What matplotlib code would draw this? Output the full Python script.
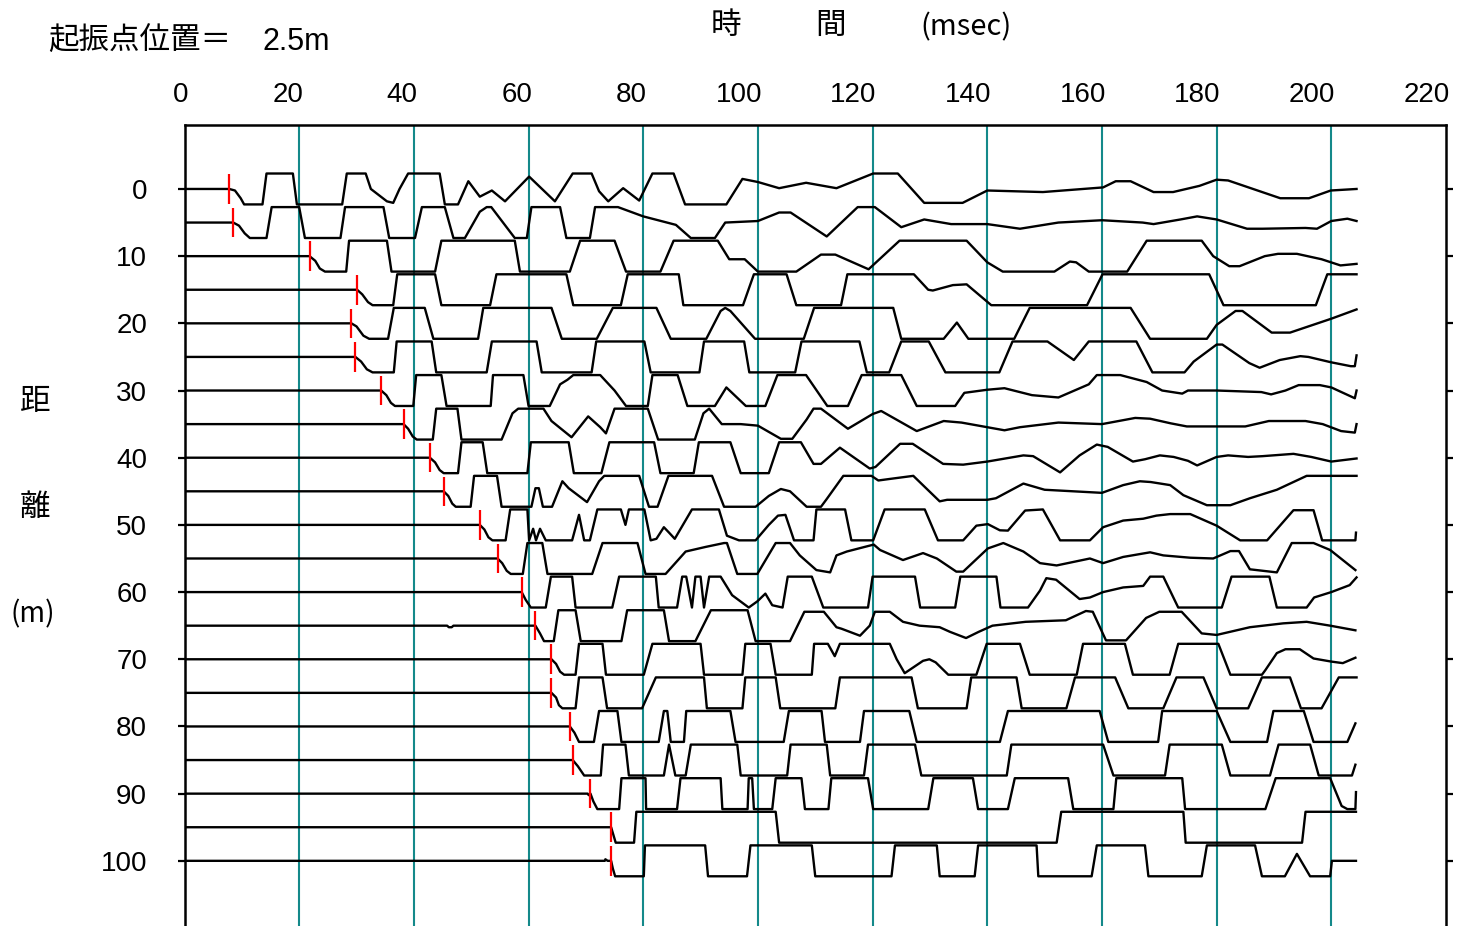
import matplotlib
matplotlib.use("Agg")
import matplotlib.pyplot as plt
from matplotlib.transforms import ScaledTranslation

# geophone offsets (m) and first-break picks (ms)
distances = list(range(0, 105, 5))
picks = [7.8, 8.5, 21.8, 30.1, 29.1, 29.8, 34.3, 38.2, 42.8, 45.2, 51.5,
         54.6, 58.8, 61.2, 64.0, 64.0, 67.2, 67.7, 70.8, 74.4, 74.4]

# clipped traces: (time ms, amplitude, +1 = clip up)
w00 = [(0,0),(7.8,0),(8.8,-0.1),(9.8,-0.6),(10.4,-1),(13.6,-1),(14.3,1),(18.9,1),(19.6,-1),(27.5,-1),(28.3,1),(31.6,1),
       (32.5,0),(35.3,-0.8),(36.4,-0.9),(37.5,0),(39,1),(44.5,1),(45.4,-1),(47.7,-1),(49.5,0.5),(51.5,-0.5),(53.6,-0.1),
       (55.9,-0.8),(60.1,0.8),(64.6,-0.8),(67.7,1),(71,1),(72.3,-0.15),(73.9,-0.8),(76.5,0.05),(79.3,-0.75),(81.6,1),
       (85.3,1),(87.3,-1),(94.5,-1),(97.3,0.65),(100,0.45),(103.7,0.05),(108.4,0.4),(113.7,0.05),(120.1,1),(124.4,1),
       (129,-0.9),(135.7,-0.9),(140,-0.1),(149.7,-0.2),(160.2,0.1),(162.4,0.5),(165,0.5),(169,-0.2),(172.4,-0.2),
       (177,0.2),(180,0.6),(182,0.55),(191.1,-0.6),(196.1,-0.6),(199.9,-0.1),(204.4,0)]
w05 = [(0,0),(8.5,0),(9.5,-0.2),(10.5,-0.7),(11.4,-1),(14.3,-1),(15.2,1),(20,1),(21,-1),(27.2,-1),(28,1),(34.7,1),
       (35.7,-1),(40.2,-1),(41.4,1),(45.4,1),(46.9,-1),(48.9,-1),(51.5,0.7),(52.7,1),(53.5,1),(57.6,-1),(59.7,-1),
       (60.5,1),(65.5,1),(66.6,-1),(70.7,-1),(71.6,1),(75.6,1),(80,0.4),(85.7,-0.15),(88.3,-1),(92.5,-1),(94.3,0),
       (100,0.1),(103.7,0.65),(105.7,0.65),(112,-0.9),(117.4,1),(120.4,1),(125,-0.3),(129,0.2),(133.7,-0.1),
       (140,-0.1),(145.7,-0.4),(152.4,0),(160,0.15),(167.1,0),(169,-0.1),(173.7,0.2),(176.6,0.4),(180,0.2),
       (185.3,-0.4),(188,-0.4),(195.5,-0.35),(197.5,-0.4),(200,0.1),(202.8,0.25),(204.4,0.1)]
w10 = [(0,0),(21.8,0),(22.8,-0.3),(23.6,-0.8),(24.5,-1),(28.2,-1),(28.7,1),(35.3,1),(36.1,-1),(43.7,-1),(44.8,1),
       (57.6,1),(58.5,-1),(67.2,-1),(69,1),(75,1),(77,-1),(83,-1),(85.3,1),(93,1),(95,-0.2),(97.7,-0.2),(100,-1),
       (106.7,-1),(111,0.1),(113.5,0.1),(119.3,-0.85),(124.7,1),(136.4,1),(140,-0.4),(142.7,-1),(151.7,-1),
       (154.4,-0.35),(155.5,-0.4),(157.7,-1),(164.4,-1),(167.8,1),(177.4,1),(179.4,0),(182.2,-0.65),(184,-0.65),
       (188.4,0),(190.7,0.15),(194,0.15),(198.3,-0.2),(201.6,-0.6),(204.4,-0.5)]
w15 = [(0,0),(30.1,0),(31,-0.3),(32,-0.8),(32.8,-1),(36.4,-1),(37.1,1),(43.7,1),(44.8,-1),(53.3,-1),(54.4,1),
       (66.6,1),(67.8,-1),(76.1,-1),(77.3,1),(86.2,1),(87,-1),(97.4,-1),(99.3,1),(105,1),(106.7,-1),(114.5,-1),
       (115.6,1),(127.2,1),(129.7,0),(130.5,-0.05),(134,0.3),(136.4,0.35),(140.7,-1),(157.4,-1),(160.1,1),
       (178.7,1),(181.2,-1),(197.3,-1),(199.3,1),(204.4,1)]
w20 = [(0,0),(29.1,0),(30,-0.2),(31.2,-0.8),(32.2,-1),(35.5,-1),(36.5,1),(41.9,1),(43.4,-1),(51.2,-1),(52.1,1),
       (64,1),(65.8,-1),(71.9,-1),(74.7,1),(82.3,1),(84.8,-1),(91,-1),(93.5,0.8),(94.3,1),(95.2,0.8),(99.5,-1),
       (108,-1),(109.8,1),(123.6,1),(125,-1),(132.4,-1),(134.7,0.05),(136.7,-1),(144.7,-1),(147.4,1),(165,1),
       (168.4,-1),(178.3,-1),(180,-0.1),(183.3,0.8),(184.5,0.8),(189.6,-0.6),(192.8,-0.6),(200,0.3),(204.4,0.9)]
w25 = [(0,0),(29.8,0),(30.8,-0.3),(31.8,-0.8),(32.8,-1),(36.5,-1),(37,1),(43.1,1),(43.9,-1),(52.7,-1),(53.6,1),
       (61.4,1),(62.3,-1),(71,-1),(71.8,1),(80.2,1),(81.3,-1),(89.8,-1),(90.6,1),(97.6,1),(98.5,-1),(106.5,-1),
       (107.6,1),(117.7,1),(119,-1),(122.9,-1),(125,1),(129.8,1),(132.7,-1),(142.1,-1),(144.4,1),(150.5,1),
       (155.1,-0.2),(157.7,1),(166,1),(168.8,-1),(174.4,-1),(176,-0.3),(180,0.8),(181,0.8),(185.7,-0.4),
       (187.5,-0.7),(191,-0.2),(194.6,0.05),(196,0),(200,-0.35),(203.4,-0.6),(204.1,-0.6),(204.4,0.1)]
w30 = [(0,0),(34.3,0),(35.2,-0.3),(36,-0.8),(36.7,-1),(39.9,-1),(40.4,1),(44.8,1),(45.7,-1),(53.4,-1),(53.8,1),
       (59.1,1),(60,-1),(63.7,-1),(65.5,0.4),(66.8,0.7),(67.8,1),(72.5,1),(75,0),(77,-1),(80.8,-1),(81.6,1),(86,1),
       (87.7,-1),(92.5,-1),(94.5,0.2),(97.9,-1),(101.3,-1),(103.4,1),(108.4,1),(112.1,-1),(115.7,-1),(118.1,1),
       (125,1),(127.7,-1),(134.4,-1),(136,-0.15),(140,0.05),(143,0.15),(147.8,-0.3),(152.4,-0.45),(157.7,0.4),
       (159.1,1),(163.2,1),(167.8,0.55),(170.5,0),(174,-0.2),(175,0),(180,0),(187.8,-0.1),(189.5,-0.25),(192,0),
       (194.3,0.35),(198,0.35),(200,0.2),(204.1,-0.5),(204.4,0)]
w35 = [(0,0),(38.2,0),(39,-0.3),(39.8,-0.8),(40.5,-1),(43.3,-1),(43.9,1),(47.6,1),(48.3,-1),(55.3,-1),(57.2,0.7),
       (58.2,1),(62.6,1),(64,0.2),(66,-0.4),(67.5,-0.85),(70.4,0.5),(72.5,-0.2),(73.5,-0.6),(75,1),(80.8,1),
       (82.6,-1),(89,-1),(90.5,0.7),(91.5,1),(93.7,0),(97,0),(100,-0.1),(104,-0.95),(106,-0.95),(108.5,0.3),
       (109.7,1),(111,1),(115.7,-0.3),(120,0.65),(121.5,0.85),(127.7,-0.45),(132.4,0.2),(135.5,0.1),(140,-0.2),
       (143,-0.4),(145.7,-0.2),(152.4,0.1),(160,0),(165.8,0.4),(168.4,0.35),(172,0.05),(174.8,-0.15),(185,-0.15),
       (189.1,0.2),(195.5,0.2),(198.5,0),(201.7,-0.45),(204.1,-0.55),(204.4,0)]
w40 = [(0,0),(42.8,0),(43.7,-0.3),(44.5,-0.8),(45.2,-1),(47.7,-1),(48.3,1),(52,1),(52.8,-1),(59.8,-1),(60.4,1),
       (67,1),(67.9,-1),(72.7,-1),(74.1,1),(81.9,1),(83,-1),(88.8,-1),(89.7,1),(95.2,1),(97,-1),(101.9,-1),
       (103.7,1),(107.5,1),(109.7,-0.4),(111,-0.4),(114.3,0.65),(119.5,-0.7),(120.5,-0.6),(124.8,0.9),(127,0.9),
       (132.3,-0.4),(135.8,-0.45),(140,-0.25),(146.3,0.15),(148,0.1),(152.7,-0.95),(156.1,0.15),(159.1,0.85),
       (161,0.7),(165.4,-0.25),(167.5,-0.1),(170.1,0.15),(172.5,0.05),(175,-0.2),(176.6,-0.5),(180,0.05),
       (182,0.15),(185.5,0.05),(188,0.1),(193.4,0.25),(196.5,0.05),(200,-0.25),(204.4,-0.05)]
w45 = [(0,0),(45.2,0),(46,-0.3),(46.7,-0.8),(47.3,-1),(49.9,-1),(50.5,1),(54.5,1),(55.3,-1),(60.5,-1),(61.2,0.2),
       (61.8,0.2),(62.5,-1),(64.1,-1),(65.9,0.65),(67,0.2),(70.2,-0.7),(72.3,0.65),(73.2,1),(79.3,1),(81,-1),
       (82.5,-1),(84.4,1),(92,1),(94.1,-1),(99.6,-1),(101.9,-0.3),(104,0.15),(105.6,0),(108.5,-1),(111,-1),
       (112,-0.5),(114.9,1),(119.8,1),(121,0.7),(123,0.8),(127.1,1),(131.7,-0.65),(133,-0.55),(140,-0.55),
       (141.5,-0.45),(146.3,0.5),(150,0.1),(160,-0.1),(163.7,0.4),(166.6,0.65),(168.5,0.6),(171.9,0.4),
       (174.2,-0.25),(178.3,-0.9),(182.4,-0.9),(185.8,-0.45),(190.5,0.1),(195.7,1),(204.4,1)]
w50 = [(0,0),(51.5,0),(52.3,-0.3),(53,-0.8),(53.7,-1),(56,-1),(56.8,1),(59.8,1),(60.1,-1),(60.8,-0.25),(61.3,-1),
       (62,-0.25),(63,-1),(67.6,-1),(68.8,0.65),(69.7,-1),(70.7,-1),(72,1),(76.1,1),(76.9,0),(77.5,1),(80.2,1),
       (81.3,-1),(82.3,-0.9),(83.6,-0.15),(84.5,-0.5),(85.5,-0.9),(88.5,1),(93.2,1),(94.6,-0.7),(96.7,-1),
       (99.6,-1),(101.9,0),(103.5,0.6),(104.8,0.65),(106.3,-1),(109.7,-1),(110.2,1),(115.2,1),(116.3,-1),
       (120.1,-1),(122.1,1),(129.1,1),(131.4,-1),(135.8,-1),(138.1,-0.05),(140.1,0.05),(142.2,-0.35),
       (143.6,-0.37),(146.6,0.93),(149.7,1),(152.7,-1),(157.9,-1),(160.2,-0.15),(163.7,0.28),(167.2,0.4),
       (169.5,0.6),(171.9,0.7),(175.4,0.7),(180,-0.05),(184.1,-1),(188.8,-1),(193.4,0.95),(196.9,0.95),
       (198.4,-1),(204.2,-1),(204.3,-0.5)]
w55 = [(0,0),(54.6,0),(55.4,-0.3),(56.2,-0.8),(56.9,-1),(59,-1),(59.8,1),(62.4,1),(63.3,-1),(71.1,-1),(72.9,1),
       (79,1),(80.4,-1),(83.9,-1),(87.4,0.45),(90.9,0.75),(94.1,1),(94.6,1),(96.4,-1),(99.9,-1),(103.1,1),
       (105.6,1),(107.3,0.2),(110.2,-0.75),(112.6,-0.9),(113.7,0.2),(115.5,0.45),(120.2,0.9),(121.3,0.55),
       (125.3,-0.1),(128.8,0.35),(131.2,0),(134.6,-0.85),(135.8,-0.85),(140.1,0.65),(142.8,1),(146.3,0.45),
       (149.2,-0.3),(152.1,-0.45),(157.9,0),(160.2,-0.3),(163.7,0.1),(168.4,0.4),(170.7,0.2),(175.4,0.05),
       (179.4,0),(182.4,0.48),(183.9,0.48),(185.8,-0.7),(190.5,-0.9),(193.1,1),(196.9,1),(199.8,0.55),(204.2,-0.75)]
w60 = [(0,0),(58.8,0),(59.5,-0.5),(60.4,-1),(63,-1),(63.9,1),(67.6,1),(68.2,-1),(74.6,-1),(75.8,1),(82.2,1),
       (82.7,-1),(85.9,-1),(86.8,1),(87.5,1),(88.5,-1),(89.1,1),(90,1),(90.6,-1),(91.5,1),(93.5,1),(95.5,-0.2),
       (98.4,-1),(99.9,-0.6),(101.3,-0.1),(102.5,-0.85),(104.3,-1),(105.2,1),(109.4,1),(111.4,-1),(119.2,-1),
       (120,1),(127.4,1),(128.3,-1),(134.4,-1),(135.3,1),(141.6,1),(142.3,-1),(147.1,-1),(149.2,0.1),(150.3,0.9),
       (152,0.8),(156.1,-0.45),(157.9,-0.35),(160.2,0),(163.7,0.3),(167.2,0.4),(168.4,1),(170.7,1),(173.3,-1),
       (180.9,-1),(182.6,1),(189.2,1),(190.5,-1),(195.7,-1),(197,-0.35),(200,0),(203.2,0.45),(204.4,0.95)]
w65 = [(0,0),(45.8,0),(46.1,-0.1),(46.6,-0.1),(46.9,0),(61.2,0),(62,-0.5),(62.7,-1),(64.4,-1),(65.2,1),(68.2,1),
       (69.1,-1),(76.2,-1),(77.2,1),(83.6,1),(84.5,-1),(89.1,-1),(91.8,1),(98.2,1),(99.6,-1),(105.6,-1),
       (108.1,0.9),(111.5,0.9),(113.7,-0.1),(114.6,-0.2),(117.8,-0.65),(119.5,0),(120.4,0.9),(123,0.9),
       (125.3,0.25),(128.2,0),(131.7,-0.1),(133.5,-0.4),(136.3,-0.8),(138.5,-0.4),(140.9,0),(146.7,0.25),
       (153.7,0.35),(157.2,0.95),(158.4,0.9),(160.7,-0.95),(164.2,-0.95),(167.7,0.5),(170,0.9),(173.9,0.9),
       (177.4,-0.5),(180,-0.6),(185.8,-0.1),(191.6,0.15),(195.7,0.25),(199.8,0),(204.2,-0.3)]
w70 = [(0,0),(64,0),(64.8,-0.3),(65.5,-0.8),(66.2,-1),(68.2,-1),(68.8,1),(72.9,1),(73.5,-1),(80.1,-1),(81.6,1),
       (90,1),(90.6,-1),(97.3,-1),(97.8,1),(102.2,1),(103.1,-1),(109.4,-1),(109.8,1),(112.2,1),(113.4,0.2),
       (114.3,1),(123,1),(124.2,0),(125.6,-0.9),(128.8,-0.1),(129.9,0),(131,-0.2),(133.2,-1),(138.1,-1),
       (139.9,1),(145.7,1),(147.4,-1),(155.6,-1),(156.7,1),(164,1),(165.4,-1),(171.8,-1),(173.3,1),(180.3,1),
       (182.4,-1),(187.9,-1),(188.5,-0.7),(190.5,0.4),(192,0.65),(194.5,0.65),(196.9,0.05),(200,-0.15),
       (202,-0.25),(204.2,0.1)]
w75 = [(0,0),(64,0),(64.8,-0.3),(65.3,-0.8),(65.9,-1),(68.2,-1),(68.8,1),(72.9,1),(73.7,-1),(79.8,-1),(82.2,1),
       (90.6,1),(91.1,-1),(97.3,-1),(97.8,1),(103.1,1),(103.9,-1),(113.5,-1),(114.3,1),(126.8,1),(127.9,-1),
       (136.4,-1),(137.2,1),(145.1,1),(146,-1),(153.8,-1),(155.3,1),(162.3,1),(164.6,-1),(170.7,-1),(173,1),
       (177.7,1),(180,-1),(185.5,-1),(187.9,1),(192.8,1),(194.7,-1),(198.3,-1),(201.3,1),(204.4,1)]
w80 = [(0,0),(67.2,0),(68,-0.4),(68.8,-1),(71.4,-1),(72.3,1),(75.5,1),(76.2,-1),(82.7,-1),(83.6,1),(84.2,1),
       (84.8,-1),(87.1,-1),(87.5,1),(95.2,1),(96.1,-1),(104.5,-1),(105.4,1),(111.1,1),(111.7,-1),(117.8,-1),
       (118.5,1),(126.4,1),(127.7,-1),(142.2,-1),(143.6,1),(159.6,1),(161.1,-1),(169.8,-1),(170.5,1),(180,1),
       (182.4,-1),(188.8,-1),(189.9,1),(195.2,1),(196.9,-1),(202.8,-1),(204.2,0.2)]
w85 = [(0,0),(67.7,0),(68.6,-0.4),(69.7,-1),(72.6,-1),(73,1),(76.9,1),(77.5,-1),(83.6,-1),(84.5,1),(85.6,-1),
       (87.4,-1),(88.3,1),(96.4,1),(97,-1),(105.1,-1),(105.7,1),(112,1),(112.6,-1),(118.5,-1),(119.2,1),
       (127.4,1),(128.5,-1),(143.4,-1),(144.2,1),(160.2,1),(162,-1),(171,-1),(171.8,1),(180.9,1),(182.4,-1),
       (189.3,-1),(190.8,1),(196.3,1),(197.8,-1),(203.6,-1),(204.2,-0.3)]
w90 = [(0,0),(70.3,0),(70.5,-0.1),(70.8,0),(71.3,-0.5),(72,-1),(75.8,-1),(76.2,1),(80.4,1),(80.5,-1),(85.9,-1),
       (86.5,1),(93.5,1),(93.8,-1),(98.2,-1),(98.4,1),(99,1),(99.3,-1),(102.5,-1),(103.1,1),(107.6,1),(108.2,-1),
       (112.3,-1),(112.8,1),(119.2,1),(120.1,-1),(129.7,-1),(130.6,1),(137.5,1),(138.4,-1),(143.6,-1),(144.8,1),
       (154.1,1),(155,-1),(162,-1),(162.5,1),(174,1),(174.5,-1),(188.5,-1),(190.3,1),(199.8,1),(201.8,-0.8),
       (202.8,-1),(204.2,-1),(204.3,0.1)]
w95 = [(0,0),(74.4,0),(74.8,-0.5),(75.2,-1),(78.4,-1),(78.8,1),(103.1,1),(103.7,-1),(152.1,-1),(152.9,1),
       (174.2,1),(174.6,-1),(194.9,-1),(195.5,1),(204.3,1)]
w100 = [(0,0),(73.3,0),(73.4,0.1),(73.8,0),(74.4,0),(74.7,-0.5),(75.1,-1),(80.1,-1),(80.3,1),(90.8,1),(91.3,-1),
        (98.1,-1),(98.7,1),(109.4,1),(110,-1),(123.3,-1),(123.9,1),(131.2,1),(131.7,-1),(137.8,-1),(138.4,1),
        (148.6,1),(148.9,-1),(158.2,-1),(159.1,1),(167.5,1),(168.1,-1),(177.4,-1),(178.3,1),(186.7,1),(187.9,-1),
        (191.9,-1),(194,0.45),(196.3,-1),(199.8,-1),(200.1,0),(204.3,0)]

traces = [w00, w05, w10, w15, w20, w25, w30, w35, w40, w45, w50,
          w55, w60, w65, w70, w75, w80, w85, w90, w95, w100]

time_ticks = list(range(0, 240, 20))
dist_ticks = list(range(0, 110, 10))

CLIP = 2.3      # clip level in metres of offset
PICK_HALF = 2.2
TEAL = "#14898a"

num_family = ["Liberation Sans", "DejaVu Sans"]
num_size = 20
jp_family = ["Noto Sans CJK JP", "DejaVu Sans"]

fig = plt.figure(figsize=(14.6, 9.26), dpi=100)
W, H = 1460, 926
ax = fig.add_axes([184.5 / W, 0, (1446 - 184.5) / W, (926 - 125) / H])
ax.set_xlim(0, 220)
ax.set_ylim(109.7, -9.52)

for t in time_ticks[1:-1]:
    ax.axvline(t, color=TEAL, lw=1.5, zorder=1)

for d, tr in zip(distances, traces):
    ts = [p[0] for p in tr]
    ys = [d - CLIP * p[1] for p in tr]
    ax.plot(ts, ys, color="black", lw=1.7, zorder=2)

ax.vlines(picks, [d - PICK_HALF for d in distances], [d + PICK_HALF for d in distances],
          color="red", lw=1.6, zorder=3)

for side in ("left", "top", "right"):
    ax.spines[side].set_linewidth(1.8)
ax.spines["bottom"].set_visible(False)

ax.set_yticks(dist_ticks)
ax.set_yticklabels([str(v) for v in dist_ticks], family=num_family, fontsize=num_size)
ax.tick_params(axis="y", left=True, right=True, direction="out", length=5, width=1.6,
               pad=22, labelleft=True, labelright=False)

ax.xaxis.tick_top()
ax.set_xticks(time_ticks)
ax.set_xticklabels([str(v) for v in time_ticks], family=num_family, fontsize=num_size, ha="right")
ax.tick_params(axis="x", length=0, pad=12)
shift = ScaledTranslation(4 / 100, 0, fig.dpi_scale_trans)
for lab in ax.get_xticklabels():
    lab.set_transform(lab.get_transform() + shift)

# titles and axis captions
fig.text(48 / W, 1 - 40 / H, "起振点位置＝", family=jp_family, fontsize=22, va="center", ha="left")
fig.text(262 / W, 1 - 42 / H, "2.5m", family=num_family, fontsize=22, va="center", ha="left")
fig.text(726 / W, 1 - 25 / H, "時", family=jp_family, fontsize=22, va="center", ha="center")
fig.text(831 / W, 1 - 25 / H, "間", family=jp_family, fontsize=22, va="center", ha="center")
fig.text(966 / W, 1 - 27 / H, "(msec)", family=jp_family, fontsize=21, va="center", ha="center")
fig.text(35 / W, 1 - 402 / H, "距", family=jp_family, fontsize=22, va="center", ha="center")
fig.text(35 / W, 1 - 508 / H, "離", family=jp_family, fontsize=22, va="center", ha="center")
fig.text(33 / W, 1 - 614 / H, "(m)", family=jp_family, fontsize=20, va="center", ha="center")

fig.savefig("out.png", dpi=100)
